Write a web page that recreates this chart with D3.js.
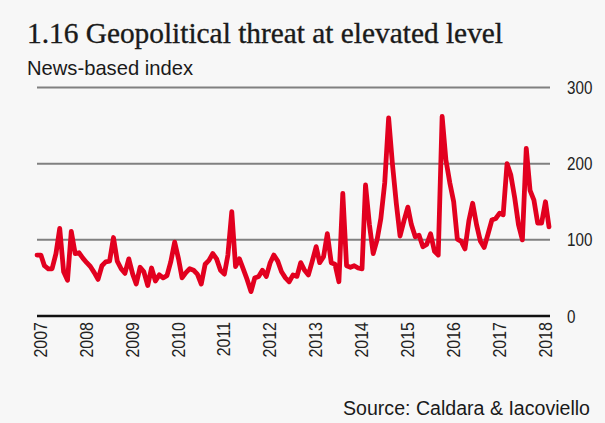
<!DOCTYPE html>
<html>
<head>
<meta charset="utf-8">
<script src="https://cdn.jsdelivr.net/npm/d3@7"></script>
<style>
  html, body { margin: 0; padding: 0; background: #f7f7f7; }
  svg { display: block; }
</style>
</head>
<body>
<svg id="chart" width="605" height="423"></svg>
<script>
// Geopolitical risk index, monthly, January 2007 onwards
const startYear = 2007;
const gprValues = [
  // 2007
  80, 80, 66, 62, 62, 82, 115, 58, 47, 111, 82, 83,
  // 2008
  76, 70, 65, 57, 48, 66, 71, 72, 103, 72, 62, 56,
  // 2009
  75, 55, 42, 64, 58, 40, 63, 46, 54, 50, 53, 71,
  // 2010
  97, 75, 50, 57, 62, 60, 55, 42, 68, 73, 82, 75,
  // 2011
  60, 55, 80, 137, 65, 75, 62, 48, 32, 50, 52, 60,
  // 2012
  52, 70, 80, 72, 58, 50, 45, 54, 52, 70, 60, 54,
  // 2013
  72, 91, 70, 78, 108, 70, 68, 45, 161, 66, 64, 66,
  // 2014
  63, 62, 172, 120, 82, 100, 128, 175, 260, 200, 148, 105,
  // 2015
  125, 143, 120, 104, 106, 91, 94, 108, 85, 80, 262, 205,
  // 2016
  175, 150, 101, 98, 88, 125, 148, 120, 98, 90, 108, 126,
  // 2017
  128, 135, 133, 200, 185, 155, 120, 100, 220, 165, 152, 122,
  // 2018
  122, 150, 117
];
const yearTicks = [2007, 2008, 2009, 2010, 2011, 2012, 2013, 2014, 2015, 2016, 2017, 2018];
const valueTicks = [0, 100, 200, 300];

const titleText = "1.16 Geopolitical threat at elevated level";
const subtitleText = "News-based index";
const sourceText = "Source: Caldara & Iacoviello";

const data = gprValues.map((v, i) => ({ date: new Date(startYear, i, 1), value: v }));

const svg = d3.select("#chart");
const W = 605, H = 423;
const plot = { left: 37, right: 549, top: 87.5, bottom: 316 };
const sans = "Liberation Sans, Arial, sans-serif";

// squeeze text horizontally to a narrow face
function narrow(sel, factor) {
  sel.each(function () {
    const len = this.getComputedTextLength();
    d3.select(this).attr("textLength", len * factor).attr("lengthAdjust", "spacingAndGlyphs");
  });
}

svg.append("rect").attr("width", W).attr("height", H).attr("fill", "#f7f7f7");

const x = d3.scaleTime()
  .domain([data[0].date, data[data.length - 1].date])
  .range([plot.left, plot.right]);
const y = d3.scaleLinear().domain([0, 300]).range([plot.bottom, plot.top]);

// horizontal gridlines
svg.append("g")
  .selectAll("line")
  .data(valueTicks.filter(v => v > 0))
  .join("line")
  .attr("x1", plot.left).attr("x2", plot.right + 1)
  .attr("y1", d => y(d)).attr("y2", d => y(d))
  .attr("stroke", "#808080").attr("stroke-width", 2);

// zero baseline
svg.append("line")
  .attr("x1", plot.left).attr("x2", plot.right + 1)
  .attr("y1", y(0)).attr("y2", y(0))
  .attr("stroke", "#111").attr("stroke-width", 2.6);

// right-hand value axis
const yAxis = d3.axisRight(y).tickValues(valueTicks).tickSize(0).tickPadding(0);
const gy = svg.append("g").attr("transform", `translate(${plot.right + 18},0)`).call(yAxis);
gy.select(".domain").remove();
gy.selectAll("text")
  .attr("font-family", sans)
  .attr("font-size", 19).attr("fill", "#222")
  .call(narrow, 0.8);

// year axis with rotated labels
const xAxis = d3.axisBottom(x)
  .tickValues(yearTicks.map(yr => new Date(yr, 0, 1)))
  .tickFormat(d3.timeFormat("%Y"))
  .tickSize(0);
const gx = svg.append("g").attr("transform", `translate(0,${plot.bottom})`).call(xAxis);
gx.select(".domain").remove();
gx.selectAll("text")
  .attr("font-family", sans)
  .attr("font-size", 19).attr("fill", "#222")
  .attr("text-anchor", "end")
  .attr("transform", "rotate(-90)")
  .attr("x", -6).attr("y", 0).attr("dy", "0.5em")
  .call(narrow, 0.84);

// index line
const line = d3.line().x(d => x(d.date)).y(d => y(d.value));
svg.append("path")
  .datum(data)
  .attr("d", line)
  .attr("fill", "none")
  .attr("stroke", "#e2001f")
  .attr("stroke-width", 4.8)
  .attr("stroke-linejoin", "round")
  .attr("stroke-linecap", "round");

// titles
svg.append("text")
  .attr("x", 27).attr("y", 43)
  .attr("font-family", "Liberation Serif, Times New Roman, serif")
  .attr("font-size", 29).attr("fill", "#1a1a1a")
  .attr("stroke", "#1a1a1a").attr("stroke-width", 0.35)
  .attr("textLength", 476).attr("lengthAdjust", "spacingAndGlyphs")
  .text(titleText);

svg.append("text")
  .attr("x", 27).attr("y", 75)
  .attr("font-family", sans)
  .attr("font-size", 21).attr("fill", "#1a1a1a")
  .attr("textLength", 166).attr("lengthAdjust", "spacingAndGlyphs")
  .text(subtitleText);

// source line, right-aligned under the plot
svg.append("text")
  .attr("x", 343).attr("y", 415)
  .attr("font-family", sans)
  .attr("font-size", 20).attr("fill", "#1a1a1a")
  .attr("textLength", 247).attr("lengthAdjust", "spacingAndGlyphs")
  .text(sourceText);
</script>
</body>
</html>
